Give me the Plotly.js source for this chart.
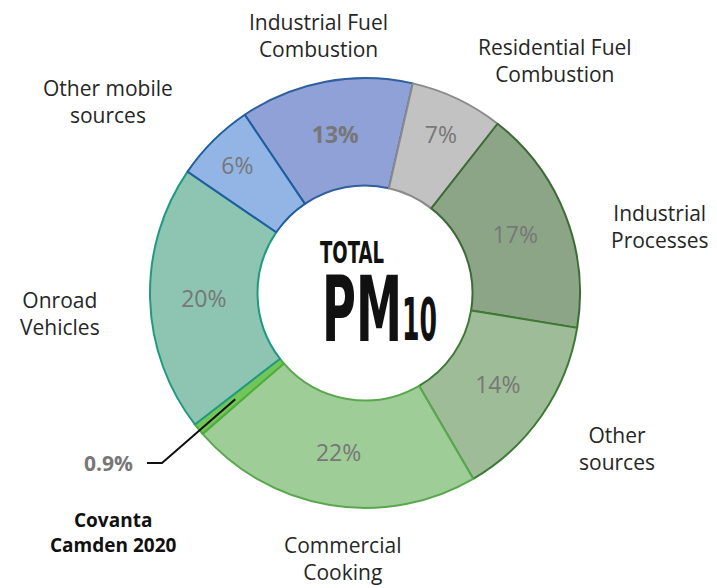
<!DOCTYPE html>
<html>
<head>
<meta charset="utf-8">
<script src="https://cdn.plot.ly/plotly-3.0.1.min.js"></script>
<style>
  html, body { margin: 0; padding: 0; background: #fff; }
  #chart { width: 717px; height: 588px; }
</style>
</head>
<body>
<div id="chart"></div>
<script>
// PM10 sources, clockwise from the top
var sources = ["Industrial Fuel Combustion", "Residential Fuel Combustion", "Industrial Processes",
               "Other sources", "Commercial Cooking", "Covanta Camden 2020", "Onroad Vehicles",
               "Other mobile sources"];
var shares = [13, 7, 17, 14, 22, 0.9, 20, 6];
var shareText = ["<b>13%</b>", "7%", "17%", "14%", "22%", "", "20%", "6%"];
var fillColors = ["#8fa1d6", "#c2c2c2", "#8ca587", "#9fbc98", "#9fcd97", "#72c558", "#8dc4b2", "#92b5e6"];
var edgeColors = ["#2f5f9e", "#8a8a8a", "#3d6b35", "#3d7a35", "#5aa84e", "#4caf3a", "#1f9a80", "#1f5f9e"];

var cx = 365, cy = 293, R = 215;      // pie centre / radius in px
var W = 717, H = 588;
var startAngle = -34;                  // degrees from 12 o'clock

var trace = {
  type: "pie",
  labels: sources,
  values: shares,
  text: shareText,
  textinfo: "text",
  hoverinfo: "label+value",
  sort: false,
  direction: "clockwise",
  rotation: startAngle,
  hole: 0.5,
  textposition: "inside",
  insidetextorientation: "horizontal",
  insidetextfont: {family: "'Open Sans', sans-serif", size: 23, color: "#777"},
  marker: {colors: fillColors, line: {color: edgeColors, width: 2}},
  domain: {x: [(cx - R) / W, (cx + R) / W], y: [(H - cy - R) / H, (H - cy + R) / H]},
  showlegend: false
};

// position of the Covanta slice (for the leader line), from the data
var total = shares.reduce(function (a, b) { return a + b; }, 0);
var before = 0;
for (var i = 0; i < 5; i++) before += shares[i];
var midDeg = startAngle + (before + shares[5] / 2) / total * 360;
var rad = midDeg * Math.PI / 180;
var rMid = R * 0.78;
var px = cx + rMid * Math.sin(rad), py = cy - rMid * Math.cos(rad);
function fx(v) { return v / W; }
function fy(v) { return 1 - v / H; }

var labelFont = {family: "'Open Sans', sans-serif", size: 21, color: "#262626"};
function lab(txt, x, y, extra) {
  var a = {text: txt, x: fx(x), y: fy(y), xref: "paper", yref: "paper",
           showarrow: false, xanchor: "center", yanchor: "middle", font: labelFont, align: "center"};
  if (extra) for (var k in extra) a[k] = extra[k];
  return a;
}
var narrow = "'Liberation Sans Narrow', 'DejaVu Sans Condensed', sans-serif";

var annotations = [
  lab("Industrial Fuel<br>Combustion", 318, 35),
  lab("Residential Fuel<br>Combustion", 555, 61),
  lab("Other mobile<br>sources", 108, 101),
  lab("Industrial<br>Processes", 660, 226),
  lab("Onroad<br>Vehicles", 60, 313),
  lab("Other<br>sources", 617, 448),
  lab("Commercial<br>Cooking", 342, 558),
  lab("<b>Covanta<br>Camden 2020</b>", 113, 532, {font: {family: "'Open Sans', sans-serif", size: 19, color: "#111"}}),
  lab("<b>0.9%</b>", 108, 463, {font: {family: "'Open Sans', sans-serif", size: 21, color: "#777"}}),
  lab("<b>TOTAL</b>", 318, 252, {xanchor: "left", font: {family: narrow, size: 30, color: "#111"}}),
  lab("<b>PM</b>", 320, 309, {xanchor: "left", font: {family: narrow, size: 90, color: "#111"}}),
  lab("<b>10</b>", 400, 320, {xanchor: "left", font: {family: narrow, size: 58, color: "#111"}})
];
// target widths (px) for the condensed centre title
var titleWidths = {9: 64, 10: 80, 11: 35};

var shapes = [{
  type: "path", xref: "paper", yref: "paper",
  path: "M " + fx(147) + " " + fy(463) + " L " + fx(162) + " " + fy(463) + " L " + fx(px) + " " + fy(py),
  line: {color: "#111", width: 2}
}];

var layout = {
  width: W, height: H,
  margin: {l: 0, r: 0, t: 0, b: 0},
  paper_bgcolor: "#fff",
  annotations: annotations,
  shapes: shapes
};

Plotly.newPlot("chart", [trace], layout, {displayModeBar: false, staticPlot: true}).then(function (gd) {
  // squeeze the centre title horizontally so it looks like a condensed display face
  Object.keys(titleWidths).forEach(function (idx) {
    var t = gd.querySelector('.annotation[data-index="' + idx + '"] text');
    if (!t) return;
    var bb = t.getBBox();
    var sx = titleWidths[idx] / bb.width;
    t.setAttribute("transform", "translate(" + bb.x + ",0) scale(" + sx + ",1) translate(" + (-bb.x) + ",0)");
  });
});
</script>
</body>
</html>
